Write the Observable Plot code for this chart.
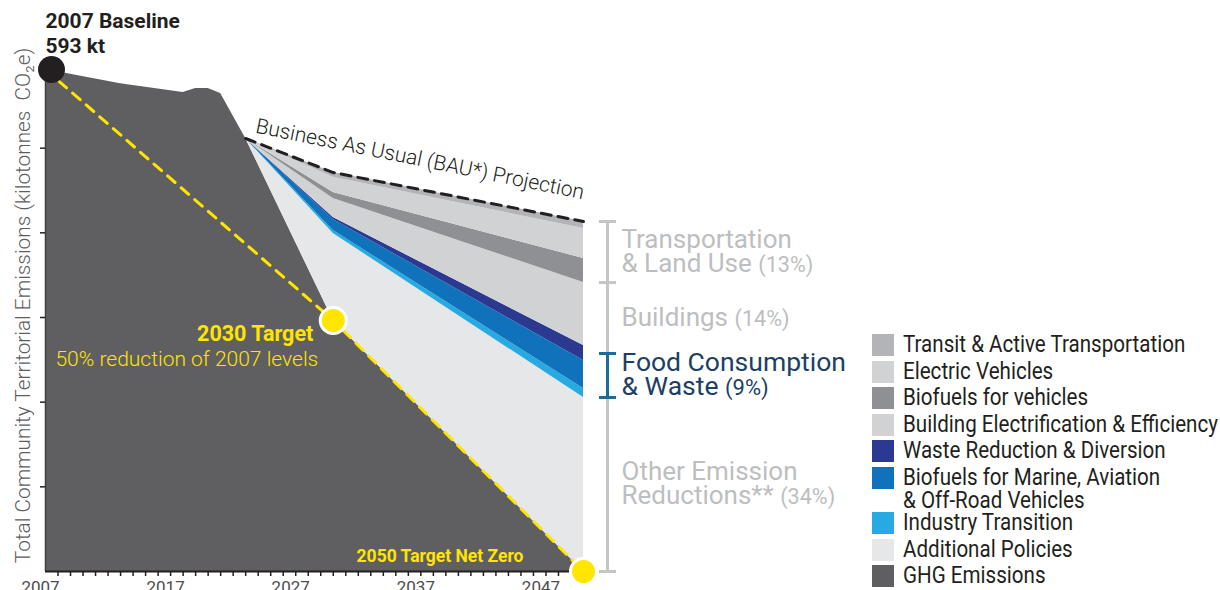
<!DOCTYPE html>
<html>
<head>
<meta charset="utf-8">
<script src="https://cdn.jsdelivr.net/npm/d3@7"></script>
<script src="https://cdn.jsdelivr.net/npm/@observablehq/plot@0.6"></script>
<style>
  html, body { margin:0; padding:0; background:#fff; }
  #wrap { position:relative; width:1220px; height:590px; overflow:hidden; font-family: Roboto, sans-serif; }
  #chart { position:absolute; left:0; top:0; }
  #legend { position:absolute; left:872px; top:334px; font-family:Roboto,sans-serif; font-size:23px; color:#231f20; }
  .item { display:flex; align-items:flex-start; }
  .sw { width:22px; height:22px; flex:none; margin-right:9px; }
  .lab { line-height:23px; margin-top:-1px; white-space:pre; transform-origin:0 50%; display:inline-block; }
</style>
</head>
<body>
<div id="wrap"><div id="chart"></div><div id="legend"></div></div>
<script>
// ---------- data (kt CO2e) ----------
const ghgYears  = [2007, 2013, 2018, 2019, 2020, 2021, 2023, 2030, 2050];
const ghgValues = [593, 576, 565.7, 570.4, 570.4, 564.5, 511.4, 296.5, 0];

const projYears = [2023, 2030, 2050];
const bauValues = [511.4, 471.2, 413.4];

const additionalPolicies = [0, 102.7, 205.5];
const industryTransition = [0, 3.5, 10.6];
const biofuelsMarine     = [0, 13.0, 33.1];
const wasteReduction     = [0, 2.3, 17.7];
const buildingElectrif   = [0, 22.5, 74.4];
const biofuelsVehicles   = [0, 7.1, 28.4];
const electricVehicles   = [0, 18.0, 35.4];
const transitActive      = [0, 5.6, 8.3];

const targetYears  = [2007, 2030, 2050];
const targetValues = [593, 296.5, 0];

const legendNames = ["Transit & Active Transportation","Electric Vehicles","Biofuels for vehicles",
  "Building Electrification & Efficiency","Waste Reduction & Diversion",
  "Biofuels for Marine, Aviation & Off-Road Vehicles","Industry Transition","Additional Policies","GHG Emissions"];
const legendLabels = ["Transit & Active Transportation","Electric Vehicles","Biofuels for vehicles",
  "Building Electrification & Efficiency","Waste Reduction & Diversion",
  "Biofuels for Marine, Aviation\n& Off-Road Vehicles","Industry Transition","Additional Policies","GHG Emissions"];
const legendColors = ["#b3b4b7","#d1d2d4","#8f9093","#d1d2d4","#2b3990","#1072ba","#27aae1","#e6e7e8","#5f5f61"];

const bracketBounds = [0, 205.5, 257.5, 341.3, 413.4];
const bracketLabels = ["Other Emission\nReductions** (34%)", "Food Consumption\n& Waste (9%)", "Buildings (14%)", "Transportation\n& Land Use (13%)"];

const xLabelYears = [2007, 2017, 2027, 2037, 2047];
const xMinorTicks = d3.range(2008, 2050);
const yTicks = [100, 200, 300, 400, 500, 600];

// ---------- tables ----------
const rows = [];
ghgYears.forEach((yr, i) => rows.push({year: yr, value: ghgValues[i], series: "GHG Emissions"}));
const wedges = [
  ["Additional Policies", additionalPolicies],
  ["Industry Transition", industryTransition],
  ["Biofuels for Marine, Aviation & Off-Road Vehicles", biofuelsMarine],
  ["Waste Reduction & Diversion", wasteReduction],
  ["Building Electrification & Efficiency", buildingElectrif],
  ["Biofuels for vehicles", biofuelsVehicles],
  ["Electric Vehicles", electricVehicles],
  ["Transit & Active Transportation", transitActive]
];
wedges.forEach(([name, vals]) => projYears.forEach((yr, i) => rows.push({year: yr, value: vals[i], series: name})));

const bau = projYears.map((yr, i) => ({year: yr, value: bauValues[i]}));
const target = targetYears.map((yr, i) => ({year: yr, value: targetValues[i]}));
const brackets = bracketLabels.map((t, i) => ({lo: bracketBounds[i], hi: bracketBounds[i + 1], mid: (bracketBounds[i] + bracketBounds[i + 1]) / 2, text: t}));
const grayBrackets = brackets.filter(b => !b.text.startsWith("Food"));
const foodBrackets = brackets.filter(b => b.text.startsWith("Food"));
const bounds = bracketBounds.map(v => ({value: v}));
const foodBounds = foodBrackets.flatMap(b => [{value: b.lo}, {value: b.hi}]);

const hbar = { draw(ctx, size) { const w = Math.sqrt(size / Math.PI); ctx.moveTo(-w, 0); ctx.lineTo(w, 0); } };

const YELLOW = "#ffe500";
const GRAYTXT = "#bcbec0";

const chart = Plot.plot({
  width: 870, height: 590,
  marginLeft: 45, marginRight: 287, marginTop: 63, marginBottom: 19,
  x: {domain: [2007, 2050]},
  y: {domain: [0, 600]},
  color: {domain: legendNames, range: legendColors},
  style: {fontFamily: "Roboto, sans-serif", background: "transparent", overflow: "visible"},
  marks: [
    Plot.areaY(rows, {x: "year", y: "value", z: "series", fill: "series"}),
    Plot.ruleX([2007], {y1: 0, y2: 593, stroke: "#404042", strokeWidth: 1.5}),
    Plot.ruleY([0], {x1: 2007, x2: 2049, stroke: "#231f20", strokeWidth: 2}),
    Plot.axisY({ticks: yTicks, tickSize: 5, tickFormat: () => "", label: null, stroke: "#231f20", strokeWidth: 1.5}),
    Plot.axisX({ticks: xMinorTicks, tickSize: 5, tickFormat: () => "", label: null, stroke: "#231f20", strokeWidth: 1.5}),
    Plot.axisX({ticks: xLabelYears, tickSize: 0, tickPadding: 9, tickFormat: "d", label: null, fontSize: 17, fill: "#4d4d4f", dx: -5}),
    Plot.line(bau, {x: "year", y: "value", stroke: "#231f20", strokeWidth: 3, strokeDasharray: "10,7"}),
    Plot.line(target, {x: "year", y: "value", stroke: YELLOW, strokeWidth: 3, strokeDasharray: "10,8"}),
    // brackets
    Plot.ruleX([2050], {y1: bracketBounds[0], y2: bracketBounds[bracketBounds.length - 1], stroke: "#c4c5c7", strokeWidth: 3, dx: 24}),
    Plot.dot(bounds, {x: () => 2050, y: "value", symbol: hbar, r: 8.5, stroke: "#c4c5c7", strokeWidth: 3, fill: "none", dx: 24}),
    Plot.ruleX(foodBrackets, {x: () => 2050, y1: "lo", y2: "hi", stroke: "#1b6c99", strokeWidth: 3, dx: 24}),
    Plot.dot(foodBounds, {x: () => 2050, y: "value", symbol: hbar, r: 8.5, stroke: "#1b6c99", strokeWidth: 3, fill: "none", dx: 24}),
    Plot.text(grayBrackets, {x: () => 2050, y: "mid", text: "text", textAnchor: "start", lineAnchor: "middle", dx: 38, fontSize: 26, lineHeight: 0.92, fill: GRAYTXT}),
    Plot.text(foodBrackets, {x: () => 2050, y: "mid", text: "text", textAnchor: "start", lineAnchor: "middle", dx: 38, fontSize: 26.5, lineHeight: 0.88, fill: "#1c3f66"}),
    // annotations
    Plot.text([bau[0]], {x: "year", y: "value", text: () => "Business As Usual (BAU*) Projection", textAnchor: "start", lineAnchor: "bottom", rotate: 11.5, dx: 9, dy: -6, fontSize: 21, fontWeight: 300, fill: "#231f20"}),
    Plot.text([target[0]], {x: "year", y: "value", text: () => "2007 Baseline\n593 kt", textAnchor: "start", lineAnchor: "bottom", dx: 0, dy: -16, fontSize: 21, fontWeight: "bold", lineHeight: 1.2, fill: "#231f20"}),
    Plot.text([target[1]], {x: "year", y: "value", text: () => "2030 Target", textAnchor: "end", lineAnchor: "middle", dx: -20, dy: 14, fontSize: 21.5, fontWeight: "bold", fill: YELLOW}),
    Plot.text([target[1]], {x: "year", y: "value", text: () => "50% reduction of 2007 levels", textAnchor: "end", lineAnchor: "middle", dx: -15, dy: 39, fontSize: 21, fontWeight: 300, fill: YELLOW}),
    Plot.text([target[2]], {x: "year", y: "value", text: () => "2050 Target Net Zero", textAnchor: "end", lineAnchor: "middle", dx: -60, dy: -15, fontSize: 17.5, fontWeight: "bold", fill: YELLOW}),
    Plot.text(["Total Community Territorial Emissions (kilotonnes  CO\u2082e)"], {frameAnchor: "left", text: d => d, rotate: -90, textAnchor: "middle", lineAnchor: "middle", dx: -22, dy: -12, fontSize: 20.8, fontWeight: 300, fill: "#5c5d60"}),
    // dots
    Plot.dot([target[0]], {x: "year", y: "value", r: 13.5, fill: "#231f20", dx: 6}),
    Plot.dot(target.slice(1), {x: "year", y: "value", r: 13, fill: YELLOW, stroke: "white", strokeWidth: 3})
  ]
});

// smaller percentage in bracket labels (sibling tspan continuing the same line)
const SVGNS = "http://www.w3.org/2000/svg";
chart.querySelectorAll("text").forEach(t => {
  const lines = t.querySelectorAll("tspan");
  if (lines.length) {
    [...lines].forEach(el => {
      const m = el.textContent.match(/^(.*\S)\s(\(\d+%\))$/);
      if (!m) return;
      el.textContent = m[1] + "\u00a0";
      const s = document.createElementNS(SVGNS, "tspan");
      s.setAttribute("font-size", "0.83em");
      s.textContent = m[2];
      el.after(s);
    });
  } else {
    const m = t.textContent.match(/^(.*\S)\s(\(\d+%\))$/);
    if (!m) return;
    t.textContent = "";
    const a = document.createElementNS(SVGNS, "tspan");
    a.textContent = m[1] + "\u00a0";
    const s = document.createElementNS(SVGNS, "tspan");
    s.setAttribute("font-size", "0.83em");
    s.textContent = m[2];
    t.append(a, s);
  }
});
document.getElementById("chart").appendChild(chart);

// legend
const leg = d3.select("#legend");
const labs = [];
legendNames.forEach((name, i) => {
  const two = legendLabels[i].includes("\n");
  const it = leg.append("div").attr("class", "item").style("height", two ? "45.5px" : "26.5px");
  it.append("div").attr("class", "sw").style("background", legendColors[i]);
  labs.push(it.append("div").attr("class", "lab").text(legendLabels[i]).node());
});
// condense the legend text to the reference's narrow face
const widest = labs[3].getBoundingClientRect().width;
const k = 315 / widest;
labs.forEach(l => l.style.transform = `scaleX(${k})`);
</script>
</body>
</html>
